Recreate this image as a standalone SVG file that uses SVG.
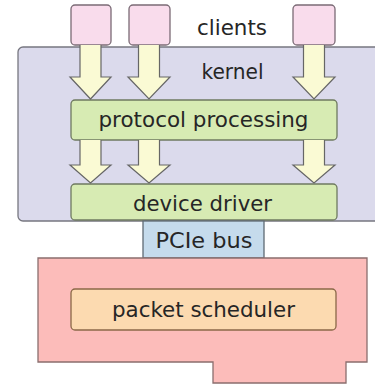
<svg xmlns="http://www.w3.org/2000/svg" width="375" height="385" viewBox="0 0 375 385">
<style>
text{font-family:"DejaVu Sans","Liberation Sans",sans-serif;font-size:21px;fill:#262626;text-anchor:middle}
.client{fill:#f9dcec;stroke:#7b6b76;stroke-width:1.3}
.green{fill:#d7ebb3;stroke:#6f7a60;stroke-width:1.3}
.arrow{fill:#fafad4;stroke:#666666;stroke-width:1.2;stroke-linejoin:miter}
</style>
<rect width="375" height="385" fill="#ffffff"/>
<g id="kernel">
<rect x="18" y="47" width="370" height="174" rx="5" fill="#dbdaec" stroke="#777780" stroke-width="1.3"/>
<text x="232.5" y="79" textLength="62" lengthAdjust="spacingAndGlyphs">kernel</text>
</g>
<g id="clients">
<rect class="client" x="71" y="5" width="40" height="40" rx="4"/>
<rect class="client" x="129" y="5" width="41" height="40" rx="4"/>
<rect class="client" x="293" y="5" width="42" height="40" rx="4"/>
<text x="232" y="35" textLength="70" lengthAdjust="spacingAndGlyphs">clients</text>
</g>
<g id="protocol-processing">
<rect class="green" x="71" y="100" width="266" height="40" rx="4"/>
<text x="203.5" y="127" textLength="210" lengthAdjust="spacingAndGlyphs">protocol processing</text>
</g>
<g id="device-driver">
<rect class="green" x="71" y="184" width="266" height="36" rx="4"/>
<text x="202.5" y="211" textLength="139" lengthAdjust="spacingAndGlyphs">device driver</text>
</g>
<g id="pcie-bus">
<rect x="143" y="221" width="121" height="37" fill="#c5dbec" stroke="#5f6a74" stroke-width="1.3"/>
<text x="204" y="248" textLength="97" lengthAdjust="spacingAndGlyphs" fill="#1e2a36">PCIe bus</text>
</g>
<g id="nic">
<path d="M38,258 H367 V362 H346 V383 H213 V362 H38 Z" fill="#fcbcba" stroke="#8a6e6e" stroke-width="1.3"/>
</g>
<g id="packet-scheduler">
<rect x="71" y="289" width="265" height="41" rx="4" fill="#fcdab0" stroke="#8a6848" stroke-width="1.3"/>
<text x="203.5" y="317" textLength="183" lengthAdjust="spacingAndGlyphs" fill="#3e3222">packet scheduler</text>
</g>
<g id="connectors">
<path class="arrow" d="M80,45 V77 H70 L90.5,99 L111,77 H101 V45"/>
<path class="arrow" d="M138.5,45 V77 H128 L149,99 L170,77 H159.5 V45"/>
<path class="arrow" d="M303.5,45 V77 H293 L314,99 L335,77 H324.5 V45"/>
<path class="arrow" d="M80,140 V165 H70 L90.5,183 L111,165 H101 V140"/>
<path class="arrow" d="M138.5,140 V165 H128 L149,183 L170,165 H159.5 V140"/>
<path class="arrow" d="M303.5,140 V165 H293 L314,183 L335,165 H324.5 V140"/>
</g>
</svg>
